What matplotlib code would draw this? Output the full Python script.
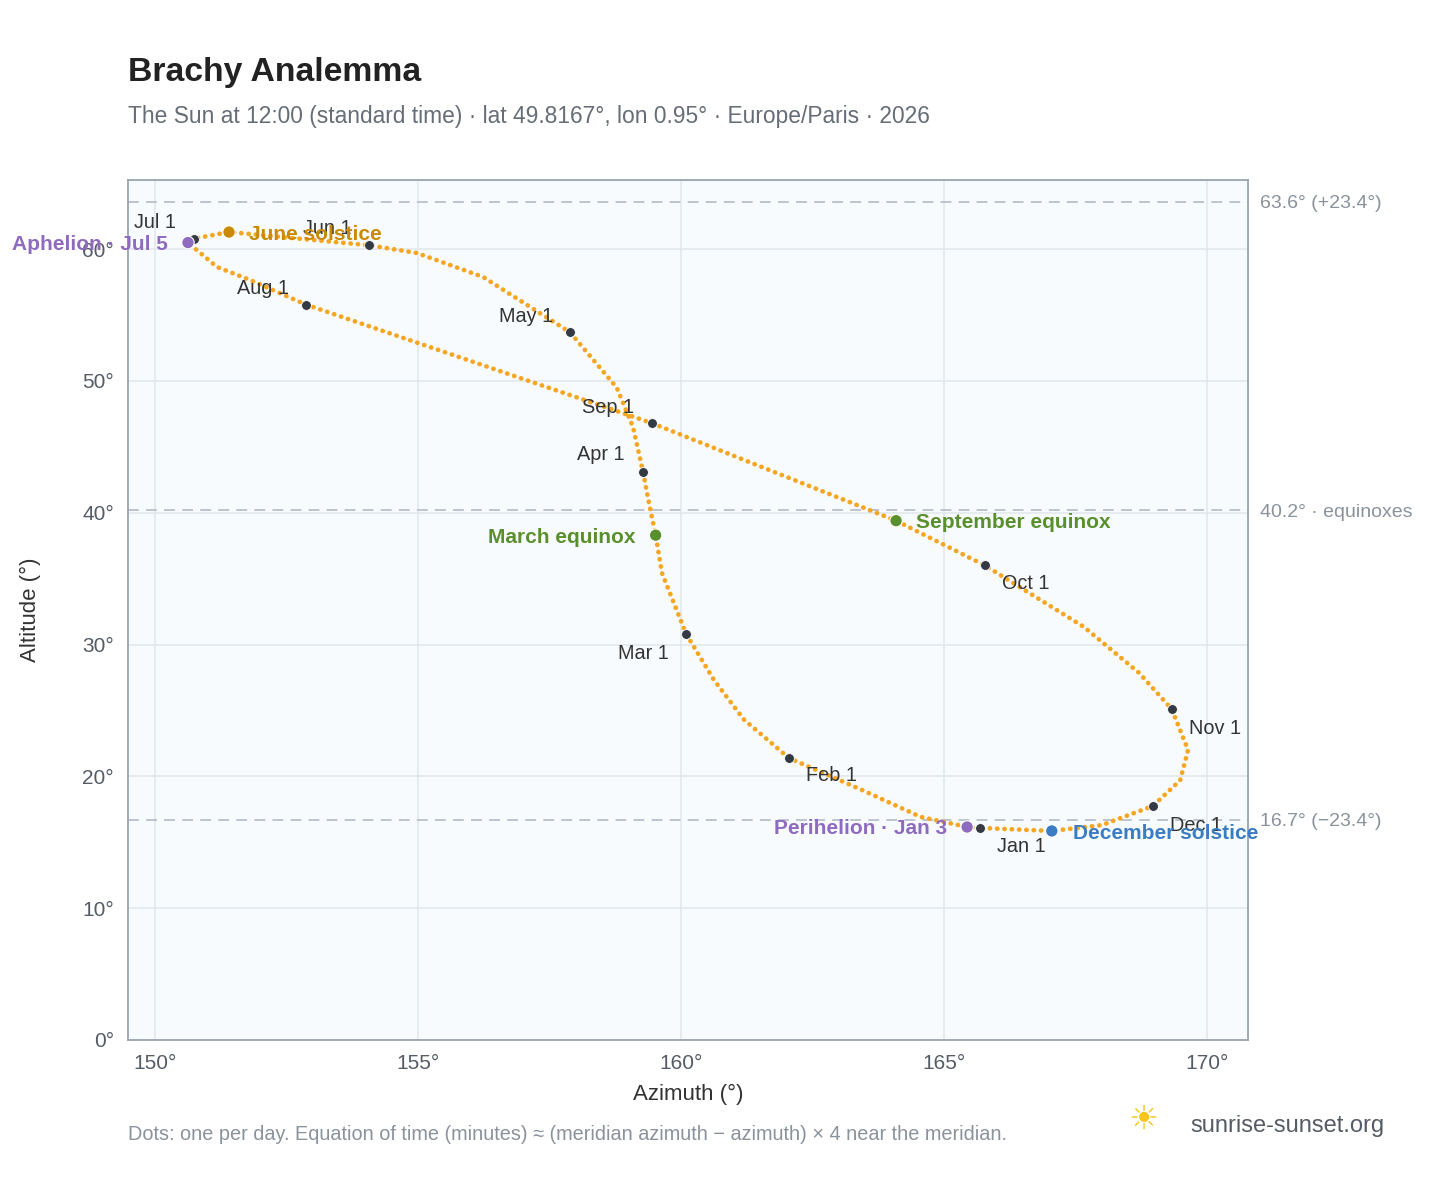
import matplotlib
matplotlib.use("Agg")
import matplotlib.pyplot as plt
plt.rcParams['font.family'] = ['Liberation Sans', 'DejaVu Sans']

# path samples, Jan 1 -> Jan 1 (in date order)
path_az = [165.68,165.44,164.56,163.44,162.05,161.20,160.63,160.10,159.64,159.52,159.41,159.28,159.09,158.78,
           157.89,156.24,154.98,154.07,151.41,150.74,150.63,151.18,151.81,152.87,159.45,164.09,165.78,
           167.66,168.71,169.33,169.64,169.49,168.97,168.00,167.05,165.68]
path_alt = [16.09,16.16,16.92,18.97,21.4,24.3,27.3,30.8,35.43,38.3,40.4,43.1,46.5,49.5,
            53.7,57.89,59.71,60.3,61.3,60.8,60.5,58.65,57.66,55.8,46.8,39.4,36.0,
            31.34,27.85,25.1,22.0,19.7,17.75,16.3,15.86,16.09]

months = ["Jan 1","Feb 1","Mar 1","Apr 1","May 1","Jun 1","Jul 1","Aug 1","Sep 1","Oct 1","Nov 1","Dec 1"]
month_az = [165.68,162.05,160.10,159.28,157.89,154.07,150.74,152.87,159.45,165.78,169.33,168.97]
month_alt = [16.09,21.4,30.8,43.1,53.7,60.3,60.8,55.8,46.8,36.0,25.1,17.75]
month_off = [(17,-19),(17,-18),(-17,-19),(-18,17),(-17,16),(-17,17),(-18,16),(-17,16),(-18,16),(17,-18),(17,-19),(17,-19)]
month_ha = ["left","left","right","right","right","right","right","right","right","left","left","left"]

events = ["June solstice","Aphelion · Jul 5","March equinox","September equinox","December solstice","Perihelion · Jan 3"]
event_az = [151.41,150.63,159.52,164.09,167.05,165.44]
event_alt = [61.3,60.5,38.3,39.4,15.86,16.16]
event_col = ["#c98a06","#8e6bbf","#5a8f2e","#5a8f2e","#3b7dc4","#8e6bbf"]
event_off = [(20,-2),(-20,-2),(-20,-2),(20,-2),(21,-3),(-20,-2)]
event_ha = ["left","right","right","left","left","right"]

ref_alt = [63.6,40.2,16.7]
ref_lab = ["63.6° (+23.4°)","40.2° · equinoxes","16.7° (−23.4°)"]

fig = plt.figure(figsize=(14.48,11.88), dpi=100)
ax = fig.add_axes([0.0884,0.1246,0.7735,0.7239])
ax.set_facecolor("#f8fbfd")
ax.set_xlim(149.49,170.78); ax.set_ylim(0,65.25)
ax.set_xticks([150,155,160,165,170]); ax.set_yticks(range(0,61,10))
ax.set_xticklabels([f"{v}°" for v in [150,155,160,165,170]])
ax.set_yticklabels([f"{v}°" for v in range(0,61,10)])
ax.grid(color="#e3e8ee", lw=1.2); ax.set_axisbelow(True)
for s in ax.spines.values(): s.set_color("#9aa5b1"); s.set_linewidth(1.3)
ax.tick_params(colors="#555c66", labelsize=15, length=0, pad=10)
ax.set_xlabel("Azimuth (°)", fontsize=16, color="#333", labelpad=8)
ax.set_ylabel("Altitude (°)", fontsize=16, color="#333", labelpad=30)

for a, l in zip(ref_alt, ref_lab):
    ax.axhline(a, color="#b8c0cc", ls=(0,(6,4)), lw=1.3)
    ax.annotate(l, (1,a), xycoords=("axes fraction","data"), xytext=(12,-2), textcoords="offset pixels",
                va="center", fontsize=14, color="#8a929c", annotation_clip=False)

ax.plot(path_az, path_alt, color="#f5a623", lw=3.4, ls=(0,(0.05,1.5)), dash_capstyle="round", zorder=3)

ax.scatter(month_az, month_alt, s=50, color="#333a44", zorder=5, edgecolor="white", lw=0.6)
for t,x,y,o,h in zip(months, month_az, month_alt, month_off, month_ha):
    ax.annotate(t,(x,y),xytext=o,textcoords="offset pixels",fontsize=14.3,color="#333",
                ha=h,va="center",zorder=6)

ax.scatter(event_az, event_alt, s=80, color=event_col, zorder=6, edgecolor="white", lw=0.8)
for t,x,y,c,o,h in zip(events,event_az,event_alt,event_col,event_off,event_ha):
    ax.annotate(t,(x,y),xytext=o,textcoords="offset pixels",fontsize=15,color=c,fontweight="bold",
                ha=h,va="center",zorder=7,annotation_clip=False)

fig.text(128/1448,1-73/1188,"Brachy Analemma",fontsize=24.3,fontweight="bold",color="#222",va="center")
fig.text(128/1448,1-117/1188,"The Sun at 12:00 (standard time) · lat 49.8167°, lon 0.95° · Europe/Paris · 2026",
         fontsize=16.4,color="#666d76",va="center")
fig.text(128/1448,1-1134/1188,"Dots: one per day. Equation of time (minutes) ≈ (meridian azimuth − azimuth) × 4 near the meridian.",
         fontsize=14.3,color="#8a929c",va="center")
fig.text(1190/1448,1-1126/1188,"sunrise-sunset.org",fontsize=17,color="#555c66",va="center")
fig.text(1143/1448,1-1120/1188,"☀",fontsize=24,color="#f5c518",va="center",ha="center",family="DejaVu Sans")
fig.savefig("out.png", dpi=100)
